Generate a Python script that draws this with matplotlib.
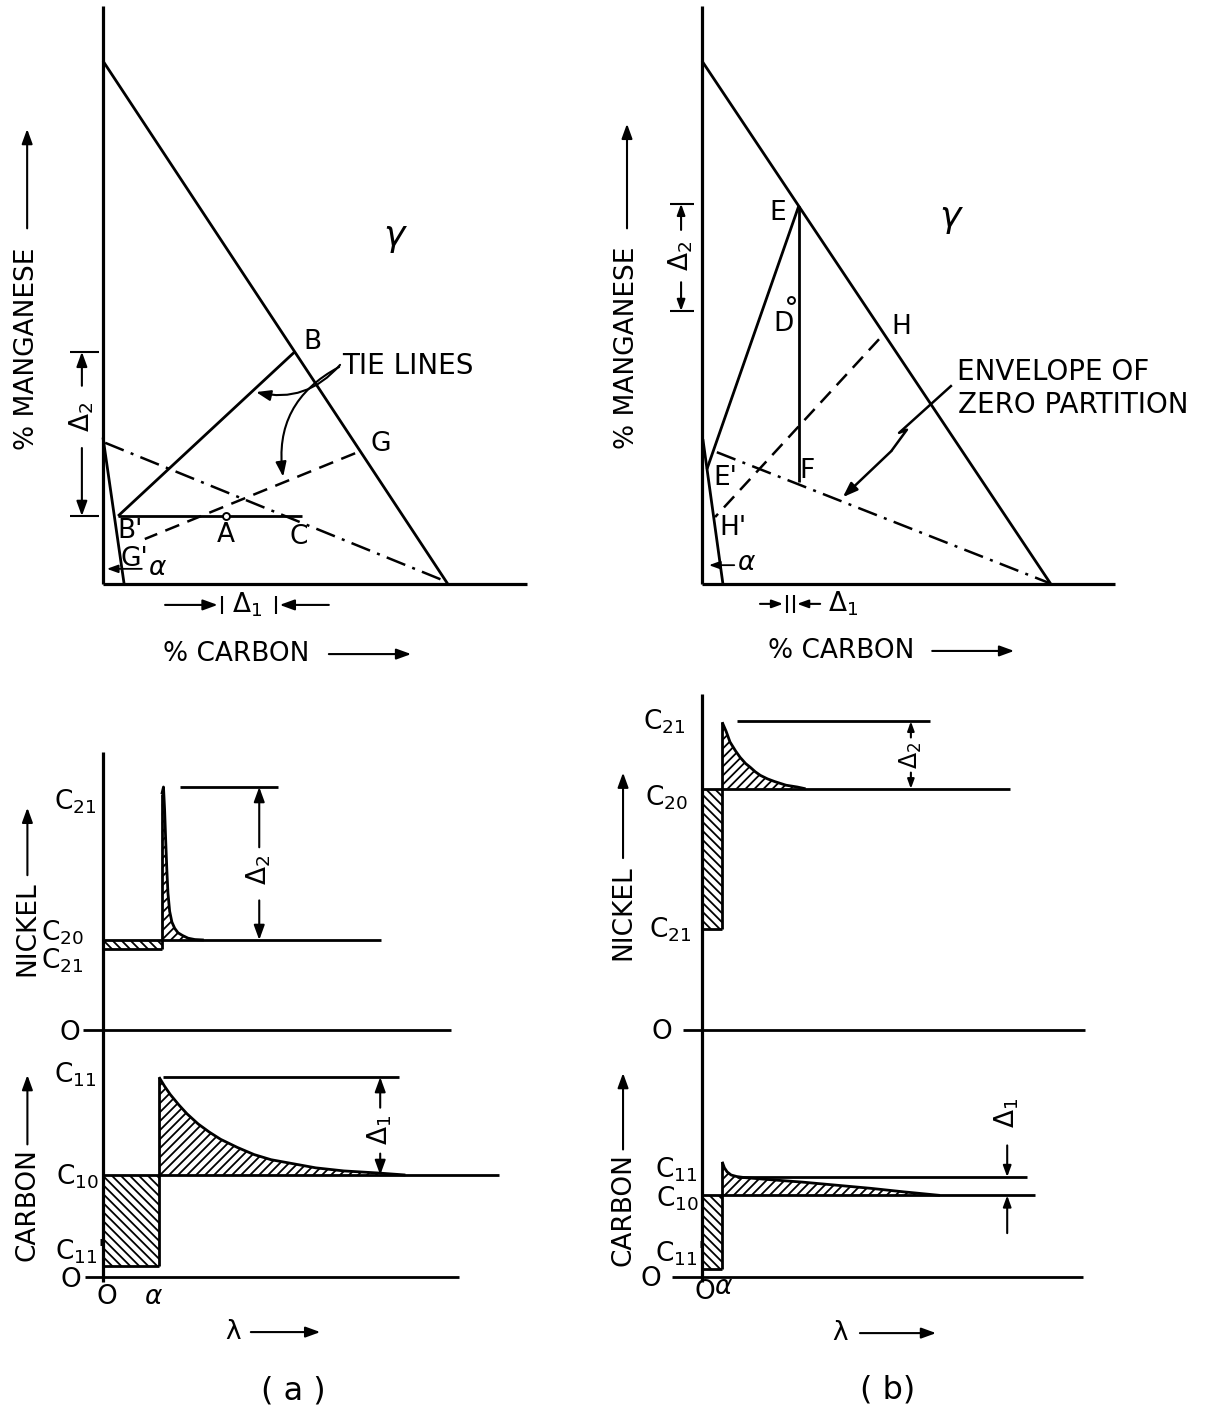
import numpy as np
import matplotlib
matplotlib.use('Agg')
import matplotlib.pyplot as plt
from matplotlib.patches import Polygon
from matplotlib.transforms import IdentityTransform

plt.rcParams['font.family'] = ['DejaVu Sans']
plt.rcParams['mathtext.fontset'] = 'dejavusans'
plt.rcParams['mathtext.default'] = 'regular'

W, H = 1212, 1410
LW = 2.0
FS = 19

# ---------------- phase diagrams (composition units, gamma apex Mn = 100) ----
gamma_c = [0, 80]
gamma_mn = [100, 0]

# (a) partition of carbon and manganese
alpha_a_c, alpha_a_mn = [0, 4.9], [28, 0]
env_a_c, env_a_mn = [0.5, 79.5], [27, 0.5]
B_a, Bp_a = (44.5, 44.4), (3.5, 13.0)
G_a, Gp_a = (58.5, 25.0), (9.7, 8.6)
C_a = (46.2, 13.0)
A_a = (28.5, 13.0)

# (b) negligible partition of manganese
alpha_b_c, alpha_b_mn = [0.2, 4.8], [27.7, 0]
env_b_c, env_b_mn = [3.4, 79.6], [25.2, 0.2]
E_b, Ep_b, F_b = (22.2, 72.3), (1.15, 22.0), (22.2, 19.5)
H_b, Hp_b = (40.6, 46.8), (3.0, 12.8)
D_b = (20.3, 54.3)
zigzag_c = [57.3, 45.2, 47.0, 43.4]
zigzag_mn = [38.0, 28.9, 29.5, 25.4]
zigzag_tip = (32.3, 16.6)

# ---------------- concentration profiles (lambda units) ----------------------
# (a) carbon
c10_a, c11_a, c11p_a, alpha_lam_a = 1.0, 1.96, 0.11, 1.0
carbon_lam_a = [1.0, 1.1, 1.2, 1.35, 1.5, 1.7, 1.9, 2.1, 2.4, 2.7, 3.0, 3.4,
                3.8, 4.3, 4.9, 5.4]
carbon_prof_a = [1.96, 1.87, 1.79, 1.69, 1.60, 1.50, 1.42, 1.35, 1.27, 1.20,
                 1.15, 1.11, 1.07, 1.04, 1.02, 1.0]
# (a) nickel
c20_a, c21_a, c21p_a = 1.0, 2.7, 0.9
nickel_lam_a = [1.05, 1.08, 1.10, 1.12, 1.14, 1.16, 1.19, 1.23, 1.28, 1.34,
                1.42, 1.52, 1.64, 1.8]
nickel_prof_a = [2.62, 2.70, 2.45, 2.10, 1.78, 1.52, 1.32, 1.20, 1.13, 1.08,
                 1.05, 1.02, 1.005, 1.0]

# (b) carbon
c10_b, c11_b, c11p_b, alpha_lam_b = 0.80, 0.98, 0.08, 0.36
carbon_lam_b = [0.36, 0.40, 0.45, 0.52, 0.62, 0.75, 1.2, 1.8, 2.4, 3.0, 3.6, 4.25]
carbon_prof_b = [1.13, 1.07, 1.03, 1.0, 0.985, 0.975, 0.955, 0.93, 0.90, 0.87,
                 0.835, 0.80]
# (b) nickel
c20_b, c21_b, c21p_b = 2.68, 3.43, 1.12
nickel_lam_b = [0.36, 0.43, 0.50, 0.60, 0.68, 0.78, 0.86, 0.95, 1.04, 1.17,
                1.30, 1.50, 1.70, 1.85]
nickel_prof_b = [3.42, 3.32, 3.20, 3.10, 3.03, 2.96, 2.92, 2.87, 2.83, 2.79,
                 2.76, 2.72, 2.70, 2.68]

fig = plt.figure(figsize=(W / 100, H / 100), dpi=100)
fig.patch.set_facecolor('white')


def make_panel(x0, y0, sx, sy):
    # full-figure transparent axes; origin at pixel (x0, y0), sx/sy px per unit
    ax = fig.add_axes([0, 0, 1, 1])
    ax.set_xlim(-x0 / sx, (W - x0) / sx)
    ax.set_ylim((y0 - H) / sy, y0 / sy)
    ax.set_axis_off()
    return ax


def line(ax, xs, ys, **kw):
    kw.setdefault('lw', LW)
    ax.plot(xs, ys, color='k', solid_capstyle='butt', **kw)


def arrow(ax, tail, head, lw=1.5, scale=16, **kw):
    ax.annotate('', xy=head, xytext=tail,
                arrowprops=dict(arrowstyle='-|>,head_length=0.55,head_width=0.2',
                                color='k', lw=lw, mutation_scale=scale,
                                shrinkA=0, shrinkB=0, **kw))


def txt(ax, x, y, s, size=FS, ha='center', va='center', **kw):
    ax.text(x, y, s, fontsize=size, ha=ha, va=va, **kw)


def seg(ax, p, q, **kw):
    line(ax, [p[0], q[0]], [p[1], q[1]], **kw)


def hatch_poly(ax, pts, rising=True, spacing=9.0, lw=1.3):
    # 45-degree hatching in screen space, clipped to the polygon
    poly = Polygon(pts, closed=True, facecolor='none', edgecolor='none')
    ax.add_patch(poly)
    disp = ax.transData.transform(np.asarray(pts, dtype=float))
    x0, y0 = disp.min(axis=0)
    x1, y1 = disp.max(axis=0)
    h = y1 - y0
    for b in np.arange(x0 - h - spacing, x1 + spacing, spacing):
        ys = [y0, y1] if rising else [y1, y0]
        ln, = ax.plot([b, b + h], ys, color='k', lw=lw,
                      transform=IdentityTransform())
        ln.set_clip_path(poly)


# ============================ (a) phase diagram =============================
axa = make_panel(103, 584, 4.31, 5.23)
line(axa, [0, 0], [0, 110.5], lw=2.3)
line(axa, [0, 98.4], [0, 0], lw=2.3)
line(axa, gamma_c, gamma_mn)
line(axa, alpha_a_c, alpha_a_mn)
line(axa, env_a_c, env_a_mn, lw=1.8, dashes=(8, 3, 1.2, 3))
seg(axa, B_a, Bp_a)
seg(axa, Bp_a, C_a)
seg(axa, G_a, Gp_a, lw=1.8, dashes=(6, 3.5))
axa.plot(*A_a, 'o', ms=5, mfc='white', mec='k', mew=1.4)

txt(axa, 48.5, 46.3, 'B')
txt(axa, 64.5, 26.8, 'G')
txt(axa, 28.5, 9.4, 'A')
txt(axa, 45.5, 9.0, 'C')
txt(axa, 6.3, 10.1, "B'")
txt(axa, 7.2, 4.8, "G'")
txt(axa, 12.5, 3.1, 'α', style='italic')
arrow(axa, (9.0, 2.9), (0.9, 2.9), lw=1.3, scale=12)
txt(axa, 67.5, 66.5, 'γ', size=26, style='italic')

txt(axa, 55.5, 41.7, 'TIE LINES', ha='left', size=20)
arrow(axa, (55.0, 41.9), (35.5, 36.7), connectionstyle='arc3,rad=-0.3')
arrow(axa, (54.8, 41.5), (41.8, 20.5), connectionstyle='arc3,rad=0.35')

# manganese difference bracket
line(axa, [-7.7, -0.9], [B_a[1], B_a[1]], lw=1.5)
line(axa, [-7.7, -0.9], [Bp_a[1], Bp_a[1]], lw=1.5)
arrow(axa, (-4.9, 37.9), (-4.9, B_a[1]))
arrow(axa, (-4.9, 26.0), (-4.9, Bp_a[1]))
txt(axa, -4.9, 31.9, 'Δ$_2$', rotation=90)

# carbon difference
arrow(axa, (14.4, -4.0), (26.6, -4.0))
line(axa, [27.6, 27.6], [-5.7, -2.3], lw=1.5)
txt(axa, 33.4, -4.0, 'Δ$_1$')
line(axa, [40.1, 40.1], [-5.7, -2.3], lw=1.5)
arrow(axa, (52.4, -4.0), (41.0, -4.0))

txt(axa, 13.9, -13.4, '% CARBON', ha='left')
arrow(axa, (52.4, -13.4), (71.5, -13.4))
txt(axa, -17.6, 44.9, '% MANGANESE', rotation=90)
arrow(axa, (-17.6, 68), (-17.6, 87))

# ============================ (b) phase diagram =============================
axb = make_panel(702, 584, 4.36, 5.23)
line(axb, [0, 0], [0, 110.5], lw=2.3)
line(axb, [0, 94.7], [0, 0], lw=2.3)
line(axb, gamma_c, gamma_mn)
line(axb, alpha_b_c, alpha_b_mn)
line(axb, env_b_c, env_b_mn, lw=1.8, dashes=(8, 3, 1.2, 3))
seg(axb, E_b, Ep_b)
seg(axb, E_b, F_b)
seg(axb, H_b, Hp_b, lw=1.8, dashes=(6, 3.5))
axb.plot(*D_b, 'o', ms=5, mfc='white', mec='k', mew=1.4)

txt(axb, 17.4, 70.9, 'E')
txt(axb, 5.3, 20.3, "E'")
txt(axb, 24.1, 21.6, 'F')
txt(axb, 18.6, 49.7, 'D')
txt(axb, 45.6, 49.1, 'H')
txt(axb, 7.1, 10.7, "H'")
txt(axb, 10.0, 4.0, 'α', style='italic')
arrow(axb, (7.4, 3.6), (1.6, 3.6), lw=1.3, scale=12)
txt(axb, 56.9, 70.2, 'γ', size=26, style='italic')

txt(axb, 58.5, 40.5, 'ENVELOPE OF', ha='left', size=20)
txt(axb, 58.7, 34.2, 'ZERO PARTITION', ha='left', size=20)
line(axb, zigzag_c, zigzag_mn, lw=1.8)
arrow(axb, (zigzag_c[-1], zigzag_mn[-1]), zigzag_tip, lw=1.8)

line(axb, [-7.3, -1.8], [72.7, 72.7], lw=1.5)
line(axb, [-7.3, -1.8], [52.2, 52.2], lw=1.5)
arrow(axb, (-4.8, 67.7), (-4.8, 72.7), scale=12)
arrow(axb, (-4.8, 57.7), (-4.8, 52.2), scale=12)
txt(axb, -4.8, 62.7, 'Δ$_2$', rotation=90)

arrow(axb, (13.3, -3.8), (18.6, -3.8), scale=12)
line(axb, [19.5, 19.5], [-5.5, -2.1], lw=1.5)
line(axb, [21.1, 21.1], [-5.5, -2.1], lw=1.5)
arrow(axb, (27.1, -3.8), (21.8, -3.8), scale=12)
txt(axb, 28.8, -3.8, 'Δ$_1$', ha='left')

txt(axb, 15.1, -12.8, '% CARBON', ha='left')
arrow(axb, (52.8, -12.8), (71.6, -12.8))
txt(axb, -17.2, 45.1, '% MANGANESE', rotation=90)
arrow(axb, (-17.2, 68), (-17.2, 88))


# ============================ profiles ======================================
def profile_panel(axc, axn, d):
    # carbon (lower) profile
    line(axc, [0, 0], [-0.05, d['axis_top']], lw=2.3)
    line(axc, d['base_x'], [0, 0])
    line(axc, [0, d['c10_end']], [d['c10'], d['c10']])
    line(axc, d['c11_x'], [d['c11'], d['c11']])
    line(axc, [0, d['alpha']], [d['c11p'], d['c11p']])
    line(axc, [d['alpha'], d['alpha']], [d['c11p'], d['c_prof'][0]])
    line(axc, d['c_lam'], d['c_prof'])
    hatch_poly(axc, [(0, d['c11p']), (d['alpha'], d['c11p']),
                     (d['alpha'], d['c10']), (0, d['c10'])], rising=False)
    hatch_poly(axc, list(zip(d['c_lam'], d['c_prof'])) +
               [(d['c_lam'][-1], d['c10']), (d['c_lam'][0], d['c10'])])

    # nickel (upper) profile
    a_n = d['nl'][0]
    line(axn, d['zero_x'], [0, 0])
    line(axn, [0, d['c20_end']], [d['c20'], d['c20']])
    line(axn, d['c21_x'], [d['c21'], d['c21']])
    line(axn, [0, a_n], [d['c21p'], d['c21p']])
    line(axn, [a_n, a_n], [d['c21p'], d['n_prof'][0]])
    line(axn, d['nl'], d['n_prof'])
    hatch_poly(axn, [(0, d['c21p']), (a_n, d['c21p']),
                     (a_n, d['c20']), (0, d['c20'])], rising=False)
    hatch_poly(axn, list(zip(d['nl'], d['n_prof'])) +
               [(d['nl'][-1], d['c20']), (a_n, d['c20'])])


axc_a = make_panel(103, 1277, 56, 102)
axn_a = make_panel(103, 1030, 56, 90)
profile_panel(axc_a, axn_a, dict(
    axis_top=5.15, base_x=[-0.32, 6.36], c10=c10_a, c10_end=7.07,
    c11=c11_a, c11_x=[1.07, 5.29], c11p=c11p_a, alpha=alpha_lam_a,
    c_lam=carbon_lam_a, c_prof=carbon_prof_a,
    zero_x=[-0.36, 6.21], c20=c20_a, c20_end=4.96, c21=c21_a,
    c21_x=[1.375, 3.125], c21p=c21p_a, nl=nickel_lam_a, n_prof=nickel_prof_a))

# (a) carbon annotations
txt(axc_a, -0.5, 1.98, 'C$_{11}$')
txt(axc_a, -0.46, 0.98, 'C$_{10}$')
txt(axc_a, -0.41, 0.25, "C$_{11}$'")
txt(axc_a, -0.57, -0.03, 'O')
txt(axc_a, 0.07, -0.2, 'O')
txt(axc_a, 0.89, -0.2, 'α', style='italic')
arrow(axc_a, (4.95, 1.66), (4.95, c11_a))
arrow(axc_a, (4.95, 1.21), (4.95, c10_a))
txt(axc_a, 4.95, 1.44, 'Δ$_1$', rotation=90)
txt(axc_a, -1.35, 0.71, 'CARBON', rotation=90)
arrow(axc_a, (-1.35, 1.30), (-1.35, 1.98))
txt(axc_a, 2.32, -0.54, 'λ')
arrow(axc_a, (2.64, -0.54), (3.88, -0.54))
txt(axc_a, 3.39, -1.12, '( a )', size=23)

# (a) nickel annotations
txt(axn_a, -0.5, 2.54, 'C$_{21}$')
txt(axn_a, -0.73, 1.08, 'C$_{20}$')
txt(axn_a, -0.73, 0.77, 'C$_{21}$')
txt(axn_a, -0.6, -0.03, 'O')
arrow(axn_a, (2.79, 2.03), (2.79, c21_a))
arrow(axn_a, (2.79, 1.44), (2.79, c20_a))
txt(axn_a, 2.79, 1.78, 'Δ$_2$', rotation=90)
txt(axn_a, -1.35, 1.13, 'NICKEL', rotation=90)
arrow(axn_a, (-1.35, 1.72), (-1.35, 2.47))

axc_b = make_panel(702, 1277, 56, 102)
axn_b = make_panel(702, 1030, 56, 90)
profile_panel(axc_b, axn_b, dict(
    axis_top=5.72, base_x=[-0.54, 6.8], c10=c10_b, c10_end=5.95,
    c11=c11_b, c11_x=[0.63, 5.80], c11p=c11p_b, alpha=alpha_lam_b,
    c_lam=carbon_lam_b, c_prof=carbon_prof_b,
    zero_x=[-0.34, 6.84], c20=c20_b, c20_end=5.5, c21=c21_b,
    c21_x=[0.63, 4.07], c21p=c21p_b, nl=nickel_lam_b, n_prof=nickel_prof_b))

# (b) carbon annotations
txt(axc_b, -0.46, 1.05, 'C$_{11}$')
txt(axc_b, -0.43, 0.77, 'C$_{10}$')
txt(axc_b, -0.39, 0.23, "C$_{11}$'")
txt(axc_b, -0.91, -0.02, 'O')
txt(axc_b, 0.05, -0.15, 'O')
txt(axc_b, 0.38, -0.1, 'α', style='italic')
arrow(axc_b, (5.45, 1.29), (5.45, c11_b), scale=12)
arrow(axc_b, (5.45, 0.43), (5.45, c10_b), scale=12)
txt(axc_b, 5.45, 1.61, 'Δ$_1$', rotation=90)
txt(axc_b, -1.41, 0.66, 'CARBON', rotation=90)
arrow(axc_b, (-1.41, 1.25), (-1.41, 2.0))
txt(axc_b, 2.46, -0.55, 'λ')
arrow(axc_b, (2.82, -0.55), (4.18, -0.55))
txt(axc_b, 3.32, -1.11, '( b)', size=23)

# (b) nickel annotations
txt(axn_b, -0.68, 3.42, 'C$_{21}$')
txt(axn_b, -0.64, 2.58, 'C$_{20}$')
txt(axn_b, -0.57, 1.11, 'C$_{21}$')
txt(axn_b, -0.71, -0.02, 'O')
arrow(axn_b, (3.73, 3.25), (3.73, c21_b), scale=10)
arrow(axn_b, (3.73, 2.86), (3.73, c20_b), scale=10)
txt(axn_b, 3.73, 3.05, 'Δ$_2$', rotation=90, size=17)
txt(axn_b, -1.41, 1.3, 'NICKEL', rotation=90)
arrow(axn_b, (-1.41, 1.91), (-1.41, 2.86))

fig.savefig('out.png', dpi=100, facecolor='white')
